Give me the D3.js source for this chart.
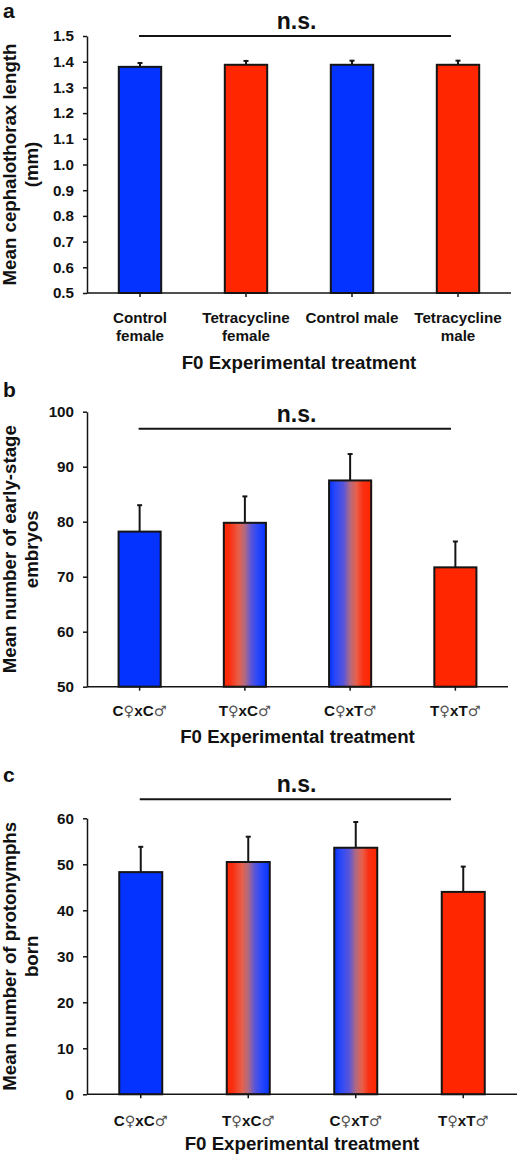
<!DOCTYPE html>
<html>
<head>
<meta charset="utf-8">
<script src="https://cdn.jsdelivr.net/npm/d3@7/dist/d3.min.js"></script>
<style>
  html, body { margin: 0; padding: 0; background: #fff; }
  svg { display: block; }
  text { font-family: "Liberation Sans", Arial, sans-serif; font-weight: bold; fill: #111; }
</style>
</head>
<body>
<svg id="chart" width="519" height="1157"></svg>
<script>
// ---------- DATA ----------
const catsA   = ["Control female", "Tetracycline female", "Control male", "Tetracycline male"];
const labelsA = [["Control", "female"], ["Tetracycline", "female"], ["Control male"], ["Tetracycline", "male"]];
const meansA  = [1.380, 1.388, 1.388, 1.388];
const errA    = [0.015, 0.015, 0.016, 0.016];
const ticksA  = [0.5, 0.6, 0.7, 0.8, 0.9, 1.0, 1.1, 1.2, 1.3, 1.4, 1.5];
const fillsA  = ["blue", "red", "blue", "red"];

const catsBC  = ["C♀xC♂", "T♀xC♂", "C♀xT♂", "T♀xT♂"];
const fillsBC = ["blue", "redblue", "bluered", "red"];

const meansB  = [78.2, 79.8, 87.5, 71.7];
const errB    = [4.8, 4.8, 4.8, 4.7];
const ticksB  = [50, 60, 70, 80, 90, 100];

const meansC  = [48.3, 50.5, 53.6, 44.0];
const errC    = [5.5, 5.5, 5.6, 5.5];
const ticksC  = [0, 10, 20, 30, 40, 50, 60];

const xTitle  = "F0 Experimental treatment";
const sigText = "n.s.";

// ---------- LAYOUT ----------
const BLUE = "#0433FF", RED = "#FF2600";
const svg = d3.select("#chart");
const defs = svg.append("defs");

function gradient(id, stops) {
  const g = defs.append("linearGradient").attr("id", id)
    .attr("x1", "0%").attr("x2", "100%").attr("y1", "0%").attr("y2", "0%");
  stops.forEach(s => g.append("stop").attr("offset", s[0]).attr("stop-color", s[1]));
}
const rbStops = [["0%", RED], ["15%", "#FA3014"], ["35%", "#E8604A"], ["50%", "#B06A82"],
                 ["65%", "#5A55D8"], ["80%", "#2A48FA"], ["100%", BLUE]];
gradient("redblue", rbStops);
gradient("bluered", rbStops.slice().reverse().map((s, i) => [rbStops[i][0], s[1]]));

const fillOf = f => f === "blue" ? BLUE : f === "red" ? RED : `url(#${f})`;

const panels = [
  { letter: "a", letterY: 18, cats: catsA, labels: labelsA, means: meansA, errs: errA, ticks: ticksA, fills: fillsA,
    fmt: d3.format(".1f"), x0: 87, x1: 511, yBottom: 293, yTop: 36,
    ylab: ["Mean cephalothorax length", "(mm)"], nsY: 29, lineY: 36,
    tickLabelY: 322.7, titleY: 369.3 },
  { letter: "b", letterY: 396.5, cats: catsBC, labels: catsBC.map(c => [c]), means: meansB, errs: errB, ticks: ticksB, fills: fillsBC,
    fmt: d3.format("d"), x0: 87, x1: 508, yBottom: 686.7, yTop: 411.7,
    ylab: ["Mean number of early-stage", "embryos"], nsY: 421.7, lineY: 428.7,
    tickLabelY: 715.7, titleY: 743.3 },
  { letter: "c", letterY: 782, cats: catsBC, labels: catsBC.map(c => [c]), means: meansC, errs: errC, ticks: ticksC, fills: fillsBC,
    fmt: d3.format("d"), x0: 87, x1: 517, yBottom: 1094.3, yTop: 818.3,
    ylab: ["Mean number of protonymphs", "born"], nsY: 791.7, lineY: 799.3,
    tickLabelY: 1125.7, titleY: 1150 }
];

function addLabel(sel, str) {
  str.split(/([♀♂])/).filter(s => s.length).forEach(seg => {
    const t = sel.append("tspan").text(seg);
    if (seg === "♀" || seg === "♂") {
      t.style("font-family", "'DejaVu Sans', sans-serif").style("font-weight", "normal")
       .style("fill", "#555").style("font-size", "14.5px");
    }
  });
}

panels.forEach(p => {
  const g = svg.append("g");
  const x = d3.scaleBand().domain(p.cats).range([p.x0, p.x1]).paddingInner(0.6).paddingOuter(0.3);
  const y = d3.scaleLinear().domain([p.ticks[0], p.ticks[p.ticks.length - 1]]).range([p.yBottom, p.yTop]);

  // panel letter
  g.append("text").attr("x", 3).attr("y", p.letterY).style("font-size", "21px").text(p.letter);

  // bars
  g.selectAll("rect.bar").data(p.means).join("rect")
    .attr("class", "bar")
    .attr("x", (d, i) => x(p.cats[i]))
    .attr("width", x.bandwidth())
    .attr("y", d => y(d))
    .attr("height", d => y(p.ticks[0]) - y(d))
    .attr("fill", (d, i) => fillOf(p.fills[i]))
    .attr("stroke", "#151515").attr("stroke-width", 2);

  // error bars (upper only)
  p.means.forEach((m, i) => {
    const cx = x(p.cats[i]) + x.bandwidth() / 2;
    g.append("line").attr("x1", cx).attr("x2", cx).attr("y1", y(m)).attr("y2", y(m + p.errs[i]))
      .attr("stroke", "#151515").attr("stroke-width", 2);
    g.append("line").attr("x1", cx - 2.5).attr("x2", cx + 2.5).attr("y1", y(m + p.errs[i])).attr("y2", y(m + p.errs[i]))
      .attr("stroke", "#151515").attr("stroke-width", 2);
  });

  // y axis
  const ya = g.append("g").attr("transform", `translate(${p.x0},0)`)
    .call(d3.axisLeft(y).tickValues(p.ticks).tickFormat(p.fmt).tickSize(4).tickSizeOuter(0).tickPadding(9));
  ya.select(".domain").attr("stroke", "#151515").attr("stroke-width", 1.5);
  ya.selectAll(".tick line").attr("stroke", "#151515").attr("stroke-width", 1.5);
  ya.selectAll(".tick text").style("font-size", "15.2px").style("font-family", "'Liberation Sans', Arial, sans-serif")
    .style("font-weight", "bold").attr("fill", "#111");

  // x axis
  const xa = g.append("g").attr("transform", `translate(0,${p.yBottom})`)
    .call(d3.axisBottom(x).tickSize(4).tickSizeOuter(0).tickFormat(""));
  xa.select(".domain").attr("stroke", "#151515").attr("stroke-width", 1.5)
    .attr("d", `M${p.x0},0H${p.x1}`);
  xa.selectAll(".tick line").attr("stroke", "#151515").attr("stroke-width", 1.5);

  // x tick labels
  p.cats.forEach((c, i) => {
    const cx = x(c) + x.bandwidth() / 2;
    p.labels[i].forEach((ln, j) => {
      const t = g.append("text").attr("x", cx).attr("y", p.tickLabelY + j * 18.3)
        .attr("text-anchor", "middle").style("font-size", "15.2px");
      addLabel(t, ln);
    });
  });

  // x title
  g.append("text").attr("x", (p.x0 + p.x1) / 2).attr("y", p.titleY).attr("text-anchor", "middle")
    .style("font-size", "18.7px").text(xTitle);

  // y title (two lines, rotated)
  const yc = (p.yTop + p.yBottom) / 2;
  p.ylab.forEach((ln, j) => {
    g.append("text").attr("transform", `translate(${16 + j * 22},${yc}) rotate(-90)`)
      .attr("text-anchor", "middle").style("font-size", "18.7px").text(ln);
  });

  // significance bar
  const lx0 = x(p.cats[0]) + x.bandwidth() / 2 - 1;
  g.append("line").attr("x1", lx0).attr("x2", 451).attr("y1", p.lineY).attr("y2", p.lineY)
    .attr("stroke", "#151515").attr("stroke-width", 2);
  g.append("text").attr("x", 296.5).attr("y", p.nsY).attr("text-anchor", "middle")
    .style("font-size", "23px").text(sigText);
});
</script>
</body>
</html>
